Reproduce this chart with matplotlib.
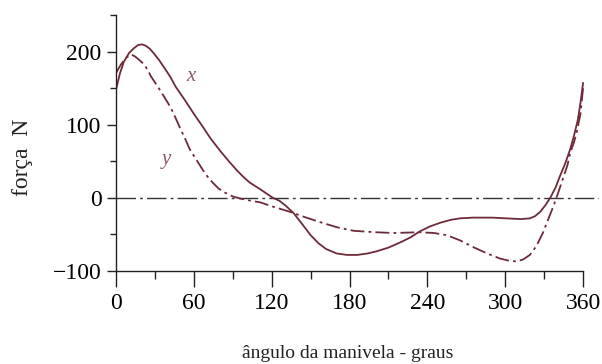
import matplotlib
matplotlib.use("Agg")
import matplotlib.pyplot as plt
from matplotlib.ticker import MultipleLocator


# crank angle (deg) and force (N)
angle_x = [0, 3, 6, 10, 14, 17, 20, 23, 26, 29, 33, 38, 42, 46, 53, 60, 67, 73,
           80, 87, 93, 98, 103, 111, 116, 121, 126, 131, 137, 144, 150, 156, 162,
           170, 178, 186, 194, 201, 210, 219, 227, 234, 242, 250, 258, 265, 275,
           290, 301, 312, 319, 323, 327, 331, 335, 339, 342, 346, 350, 353, 356,
           358, 360]
force_x = [148, 170, 186, 198, 205, 209, 210, 208, 204, 198, 189, 176, 165, 152,
           134, 115, 97, 81, 65, 50, 38, 29, 21, 12, 6, 0, -4, -11, -21, -37, -51,
           -62, -70, -76, -78, -78, -76, -73, -68, -61, -54, -46, -39, -34, -30,
           -28, -27, -27, -28, -29, -28, -25, -19, -10, 1, 15, 29, 46, 66, 85, 107,
           130, 157]

angle_y = [0, 4, 8, 12, 15, 19, 22, 25, 27, 33, 40, 44, 49, 53, 57, 62, 67, 71,
           75, 79, 83, 90, 96, 104, 111, 121, 134, 145, 157, 170, 183, 200, 214,
           234, 245, 255, 265, 275, 286, 296, 303, 309, 314, 319, 324, 329, 333,
           337, 341, 345, 348, 350, 353, 355, 358, 360]
force_y = [171, 183, 192, 196, 193, 187, 182, 173, 166, 150, 130, 117, 97, 82,
           66, 52, 38, 28, 20, 13, 8, 2, -1, -4, -6, -12, -19, -26, -33, -40, -45,
           -47, -48, -47, -48, -51, -58, -67, -76, -83, -86, -87, -84, -78, -66,
           -48, -30, -12, 8, 29, 45, 61, 76, 89, 115, 150]

x_ticks = [0, 60, 120, 180, 240, 300, 360]
y_ticks = [-100, 0, 100, 200]

CURVE_COLOR = "#6e2a38"
LABEL_COLOR = "#8c5a62"

plt.rcParams["font.family"] = ["Liberation Serif", "DejaVu Serif"]
plt.rcParams["lines.scale_dashes"] = False

fig = plt.figure(figsize=(6.02, 3.64), dpi=100)
ax = fig.add_axes([0.1927, 0.2555, 0.8017, 0.703])

ax.plot([0, 372], [0, 0], color="#333333", lw=1.0, dashes=(14, 3, 2, 3))
ax.plot(angle_x, force_x, color=CURVE_COLOR, lw=1.3)
ax.plot(angle_y, force_y, color=CURVE_COLOR, lw=1.3, dashes=(10, 3, 2, 3))

ax.text(58, 166, "x", style="italic", fontsize=15, color=LABEL_COLOR,
        ha="center", va="center")
ax.text(39, 52, "y", style="italic", fontsize=15, color=LABEL_COLOR,
        ha="center", va="center")

ax.set_xlim(0, 372)
ax.set_ylim(-100, 250)
ax.spines["top"].set_visible(False)
ax.spines["right"].set_visible(False)
ax.spines["left"].set_bounds(-100, 250)
ax.spines["bottom"].set_bounds(0, 360)
for side in ["left", "bottom"]:
    ax.spines[side].set_color("#222222")
    ax.spines[side].set_linewidth(1.0)

ax.set_xticks(x_ticks)
ax.set_yticks(y_ticks)
ax.xaxis.set_minor_locator(MultipleLocator(30))
ax.yaxis.set_minor_locator(MultipleLocator(50))
ax.tick_params(axis="x", which="major", length=11.5, width=1.0, pad=4,
               labelsize=17, color="#222222")
ax.tick_params(axis="x", which="minor", length=6, width=1.0, color="#222222")
ax.tick_params(axis="y", which="major", length=6.5, width=1.0, pad=4,
               labelsize=17, color="#222222")
ax.tick_params(axis="y", which="minor", length=4.5, width=1.0, color="#222222")

fig.text(0.578, 0.016, "ângulo da manivela - graus", fontsize=14,
         ha="center", va="baseline", color="#222222")
fig.text(0.038, 0.569, "força  N", fontsize=17, rotation=90,
         ha="center", va="center", color="#222222")

fig.savefig("out.png", dpi=100)
